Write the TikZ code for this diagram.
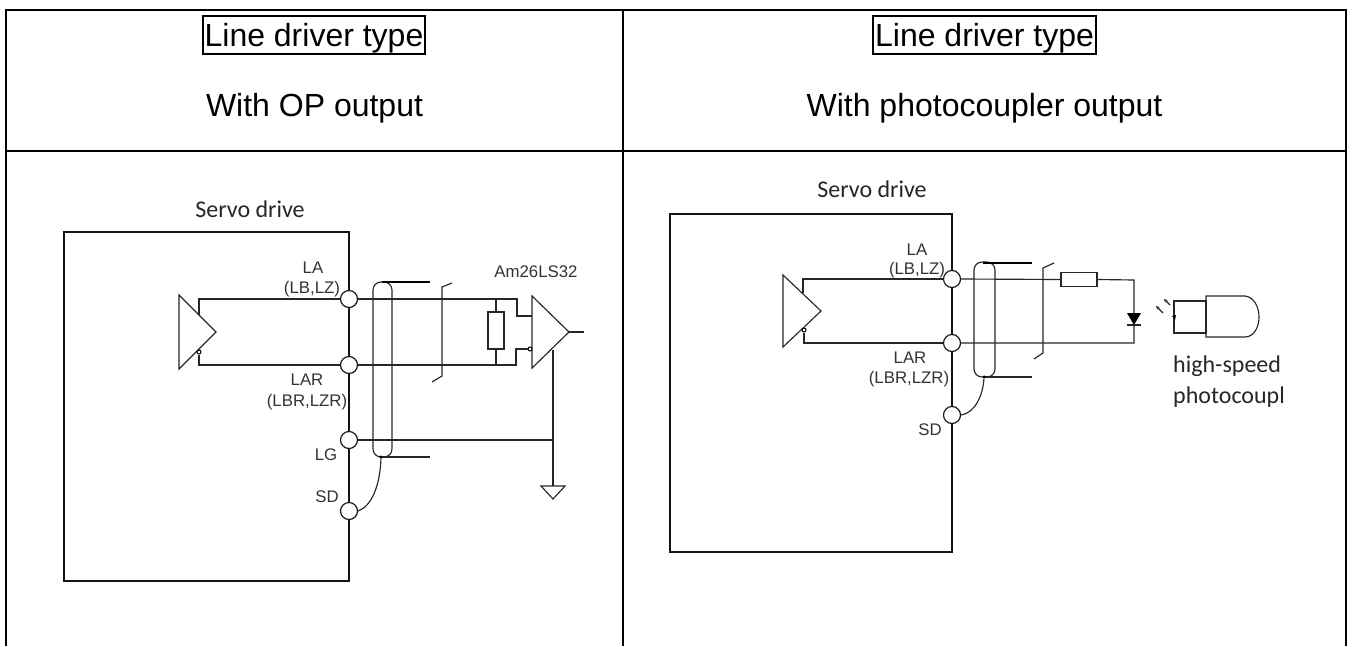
\documentclass[tikz,border=0pt]{standalone}
\usepackage{fontspec}
\setmainfont{Liberation Sans}
\newfontfamily\calib{Carlito}
\usetikzlibrary{calc,arrows.meta}
\tikzset{
  frame/.style={draw=black,line width=2pt},
  hbox/.style={draw=black,line width=1.8pt,inner xsep=2pt,inner ysep=1.5pt,font=\fontsize{32}{32}\selectfont,text height=28.5pt,text depth=6.5pt},
  htext/.style={font=\fontsize{32}{32}\selectfont,inner sep=0pt,anchor=base},
  wire/.style={draw=black!85,line width=1.15pt},
  thick wire/.style={draw=black,line width=2pt},
  drive/.style={draw=black!92,line width=2.3pt},
  term/.style={circle,draw=black!90,fill=white,line width=1.2pt,minimum size=17pt,inner sep=0pt},
  tiny/.style={circle,draw=black,fill=white,line width=1pt,minimum size=4pt,inner sep=0pt},
  dot/.style={circle,fill=black,minimum size=3.5pt,inner sep=0pt},
  sig/.style={font=\fontsize{16.8}{16.8}\selectfont,text=black!80,inner sep=0pt},
  cal/.style={font=\calib\fontsize{24}{24}\selectfont,text=black!85,inner sep=0pt,anchor=base},
}
\begin{document}
\begin{tikzpicture}[x=1pt,y=-1pt]
\useasboundingbox (0,0) rectangle (1354,646);
% table
\draw[frame] (6,646) -- (6,10) -- (1346,10) -- (1346,646);
\draw[frame] (6,151) -- (1346,151);
\draw[frame] (623,10) -- (623,646);
\node[hbox] (h1) at (314,35) {Line driver type};
\node[htext] (s1) at (314.5,116) {With OP output};
\node[hbox] (h2) at (984.5,35) {Line driver type};
\node[htext] (s2) at (984.5,116) {With photocoupler output};

% ---------- left diagram
\node[cal] (t1) at (250,217) {Servo drive};
\draw[drive] (64,232) rectangle (349,581);
\coordinate (a1) at (179,295); \coordinate (a2) at (179,369); \coordinate (a3) at (216,332);
\draw[wire] (a1) -- (a2) -- (a3) -- cycle;
\node[term] (la) at (349,299) {};
\node[term] (lar) at (349,365) {};
\node[term] (lg) at (349,440) {};
\node[term] (sd) at (349,511) {};
\node[tiny] (inv1) at (199,352) {};
\coordinate (j1) at (199,315);
\draw[wire] (j1) |- (la.west);
\draw[wire] (inv1.south) |- (lar.west);
% pill
\draw[wire,rounded corners=8pt] (373,282) rectangle (392,457);
\coordinate (sht) at (382,282); \coordinate (shte) at (430,282);
\coordinate (shb) at (381,457); \coordinate (shbe) at (430,457);
\draw[thick wire] (sht) -- (shte);
\draw[wire] (shb) -- (shbe);
\node[dot] (d1) at (shb) {};
\draw[wire] (d1) .. controls (380,485) and (372,506) .. (sd.east);
% twisted tick
\coordinate (k1) at (452,283); \coordinate (k2) at (442,287); \coordinate (k3) at (442,376); \coordinate (k4) at (432,382);
\draw[wire] (k1) -- (k2) -- (k3) -- (k4);
% receiver
\coordinate (b1) at (532,296); \coordinate (b2) at (532,368); \coordinate (b3) at (569,332);
\draw[wire] (b1) -- (b2) -- (b3) -- cycle;
\coordinate (bin) at (532,316);
\node[tiny] (inv2) at (530,349) {};
\draw[wire] (la.east) -- (517,299) -- (517,316) -- (bin);
\draw[wire] (lar.east) -- (516,365) -- (516,349) -- (inv2.west);
\node[draw=black!85,line width=1.15pt,fill=white,minimum width=16pt,minimum height=37pt,inner sep=0pt] (r1) at (496,330.5) {};
\draw[wire] (r1.north) -- (496,299);
\draw[wire] (r1.south) -- (496,365);
\coordinate (out) at (584,332);
\draw[wire] (b3) -- (out);
\coordinate (gt) at (553,486);
\draw[wire] (553,350) -- (gt);
\draw[wire] (lg.east) -- (553,440);
\draw[wire] (541,486) -- (565,486) -- (553,499) -- cycle;
\node[sig] (tla) at (313,268) {LA};
\node[sig] (tlb) at (312,289) {(LB,LZ)};
\node[sig] (tlar) at (307,380) {LAR};
\node[sig] (tlbr) at (307,402) {(LBR,LZR)};
\node[sig] (tlg) at (326,455) {LG};
\node[sig] (tsd) at (327,497) {SD};
\node[sig] (tam) at (536,272) {Am26LS32};

% ---------- right diagram
\node[cal] (t2) at (872,197) {Servo drive};
\draw[drive] (670,214) rectangle (952,552);
\coordinate (c1) at (783,275); \coordinate (c2) at (783,347); \coordinate (c3) at (821,311);
\draw[wire] (c1) -- (c2) -- (c3) -- cycle;
\node[term] (rla) at (952,279) {};
\node[term] (rlar) at (952,343) {};
\node[term] (rsd) at (952,415) {};
\node[tiny] (inv3) at (804,330) {};
\coordinate (j2) at (803,293);
\draw[wire] (j2) |- (rla.west);
\draw[wire] (inv3.south) |- (rlar.west);
\draw[wire,rounded corners=8pt] (974,262) rectangle (995,377);
\coordinate (rsht) at (983,263); \coordinate (rshte) at (1032,263);
\coordinate (rshb) at (984,377); \coordinate (rshbe) at (1032,377);
\draw[thick wire] (rsht) -- (rshte);
\draw[wire] (rshb) -- (rshbe);
\node[dot] (d2) at (rshb) {};
\draw[wire] (d2) .. controls (983,395) and (975,413) .. (rsd.east);
\coordinate (m1) at (1054,263); \coordinate (m2) at (1043,268); \coordinate (m3) at (1043,353); \coordinate (m4) at (1034,359);
\draw[wire] (m1) -- (m2) -- (m3) -- (m4);
\node[draw=black!85,line width=1.15pt,minimum width=36pt,minimum height=14.5pt,inner sep=0pt] (r2) at (1079,279.5) {};
\draw[wire] (rla.east) -- (r2.west);
\coordinate (cn) at (1134,280);
\coordinate (cs) at (1134,343);
\draw[wire] (r2.east) -- (cn) -- (cs) -- (rlar.east);
\fill[black] (1127,313) -- (1141,313) -- (1134,325) -- cycle;
\draw[wire] (1127,325) -- (1141,325);
% photo arrows
\draw[wire,-{Stealth[length=3.5pt,width=3.5pt]}] (1163,313) -- (1156,306);
\draw[wire,-{Stealth[length=3.5pt,width=3.5pt]}] (1170,305) -- (1164,299);
\draw[wire] (1174,301) rectangle (1206,333);
\fill[black] (1172,316) -- (1176,315) -- (1175,320) -- cycle;
\draw[wire] (1206,296) -- (1245,296) .. controls (1254,297) and (1259,307) .. (1259,317) .. controls (1259,327) and (1254,337) .. (1245,337) -- (1206,337) -- cycle;
\node[sig] (rtla) at (917,250) {LA};
\node[sig] (rtlb) at (917,270) {(LB,LZ)};
\node[sig] (rtlar) at (910,358) {LAR};
\node[sig] (rtlbr) at (909,379) {(LBR,LZR)};
\node[sig] (rtsd) at (930,430) {SD};
\node[cal,anchor=base west] (hs) at (1173,372) {high-speed};
\node[cal,anchor=base west] (pc) at (1173,403) {photocoupl};
\end{tikzpicture}
\end{document}
